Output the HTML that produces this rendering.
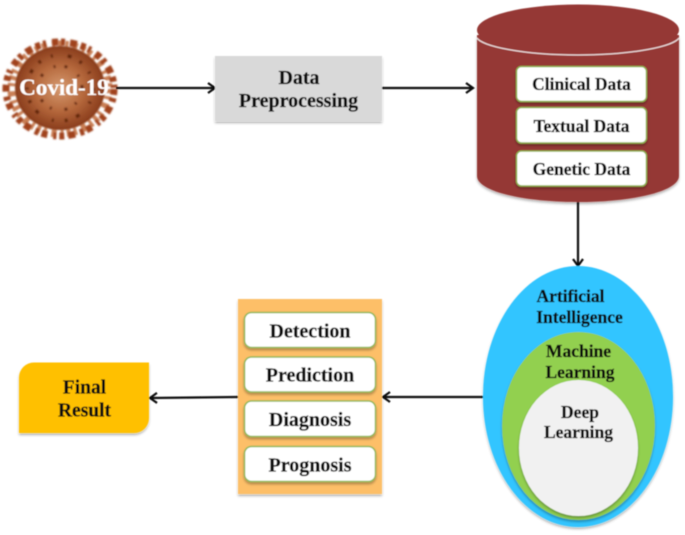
<!DOCTYPE html>
<html><head><meta charset="utf-8"><style>
html,body{margin:0;padding:0;background:#fff;width:685px;height:535px;overflow:hidden}
svg{display:block}
text{font-family:"Liberation Serif",serif;font-weight:bold;fill:#111;stroke:#111;stroke-width:.3px;text-anchor:middle;font-size:17.5px}
</style></head><body>
<svg width="685" height="535" viewBox="0 0 685 535" xmlns="http://www.w3.org/2000/svg">
<defs>
<radialGradient id="v" cx="0.5" cy="0.5" r="0.55"><stop offset="0" stop-color="#d69a70"/><stop offset="0.5" stop-color="#b5683c"/><stop offset="1" stop-color="#7f3214"/></radialGradient>
<filter id="s" x="-10%" y="-10%" width="120%" height="120%"><feDropShadow dx="0" dy="2" stdDeviation="1.2" flood-color="#000" flood-opacity="0.3"/></filter>
<filter id="b"><feGaussianBlur stdDeviation="0.45"/></filter>
<filter id="b2"><feGaussianBlur stdDeviation="0.9"/></filter>
<marker id="a" markerWidth="14" markerHeight="14" refX="11" refY="7" orient="auto" markerUnits="userSpaceOnUse"><path d="M4 2 L11 7 L4 12" fill="none" stroke="#111" stroke-width="2.200"/></marker>
</defs>
<g filter="url(#b)">
<!-- virus -->
<g filter="url(#b2)">
<ellipse cx="60" cy="89" rx="47" ry="43" fill="none" stroke="#c97f55" stroke-width="11" stroke-dasharray="4 3 3 4 5 5 3 3"/>
<ellipse cx="60" cy="89" rx="54" ry="47" fill="none" stroke="#a0431f" stroke-width="7" stroke-dasharray="6 3 4 5 7 4 5 3 3 6"/>
<ellipse cx="60" cy="88" rx="45" ry="42" fill="url(#v)"/>
<circle cx="60" cy="88" r="33" fill="none" stroke="#64260f" stroke-width="3.500" stroke-dasharray="3 11 2 15 4 9"/>
<circle cx="60" cy="88" r="22" fill="none" stroke="#64260f" stroke-width="3" stroke-dasharray="3 13 2 9"/>
</g>

<!-- connectors -->
<g stroke="#111" stroke-width="2.200" fill="none">
<line x1="116" y1="88" x2="215" y2="88" marker-end="url(#a)"/>
<line x1="382" y1="88" x2="473" y2="88" marker-end="url(#a)"/>
<line x1="578" y1="202" x2="578" y2="266" marker-end="url(#a)"/>
<line x1="483" y1="397" x2="383" y2="397" marker-end="url(#a)"/>
<line x1="238" y1="397" x2="150" y2="398" marker-end="url(#a)"/>
</g>
<text x="64" y="95" style="fill:#fff;stroke:#f3e6dc;font-size:23px">Covid-19</text>

<!-- preprocessing -->
<rect x="215" y="56" width="167" height="65" fill="#d9d9d9" filter="url(#s)"/>
<text x="299" y="84" style="font-size:20px">Data</text>
<text x="298.500" y="107" style="font-size:20px">Preprocessing</text>

<!-- cylinder -->
<path d="M477 35 V176 C477 191 522 202 578 202 C634 202 679 191 679 176 V35 Z" fill="#953735" filter="url(#s)"/>
<ellipse cx="578" cy="30" rx="101" ry="25.500" fill="#953735"/>
<path d="M477 38 C482 46 522 55 578 55 C634 55 674 46 679 38" fill="none" stroke="#ecdcdb" stroke-width="1.200"/>
<g fill="#fff" stroke="#8db04f" stroke-width="1.500" filter="url(#s)">
<rect x="516.500" y="66.500" width="130" height="35" rx="5"/>
<rect x="516.500" y="107.500" width="130" height="35.500" rx="5"/>
<rect x="516.500" y="151" width="130" height="35" rx="5"/>
</g>
<text x="581.500" y="90">Clinical Data</text>
<text x="581.500" y="132">Textual Data</text>
<text x="581.500" y="175">Genetic Data</text>

<!-- ellipses -->
<ellipse cx="578" cy="396.500" rx="95" ry="130.500" fill="#33c5ff" filter="url(#s)"/>
<ellipse cx="578.500" cy="426" rx="76.500" ry="94" fill="#92d050" filter="url(#s)"/>
<ellipse cx="578.500" cy="448" rx="59.500" ry="68" fill="#f1f1f1" filter="url(#s)"/>
<text x="570.500" y="302">Artificial</text>
<text x="579.500" y="323">Intelligence</text>
<text x="578.500" y="357">Machine</text>
<text x="580" y="378">Learning</text>
<text x="580" y="418">Deep</text>
<text x="578.500" y="438">Learning</text>

<!-- tasks -->
<rect x="238" y="299" width="144" height="195" fill="#fdbf68" filter="url(#s)"/>
<g fill="#fff" stroke="#93b85a" stroke-width="1.500" filter="url(#s)">
<rect x="244.500" y="312.500" width="131" height="35" rx="7"/>
<rect x="244.500" y="357" width="131" height="35" rx="7"/>
<rect x="244.500" y="401" width="131" height="35.500" rx="7"/>
<rect x="244.500" y="446.500" width="131" height="35" rx="7"/>
</g>
<text x="310" y="337.500" style="font-size:20px">Detection</text>
<text x="310" y="381.500" style="font-size:20px">Prediction</text>
<text x="310" y="426" style="font-size:20px">Diagnosis</text>
<text x="310" y="471.500" style="font-size:20px">Prognosis</text>

<!-- final -->
<path d="M34 362.500 H149 V418 A15 15 0 0 1 134 433 H19 V377.500 A15 15 0 0 1 34 362.500 Z" fill="#ffc000" filter="url(#s)"/>
<text x="84.500" y="393.500" style="font-size:19.500px">Final</text>
<text x="84.500" y="416.500" style="font-size:19.500px">Result</text>
</g>
</svg>
</body></html>
